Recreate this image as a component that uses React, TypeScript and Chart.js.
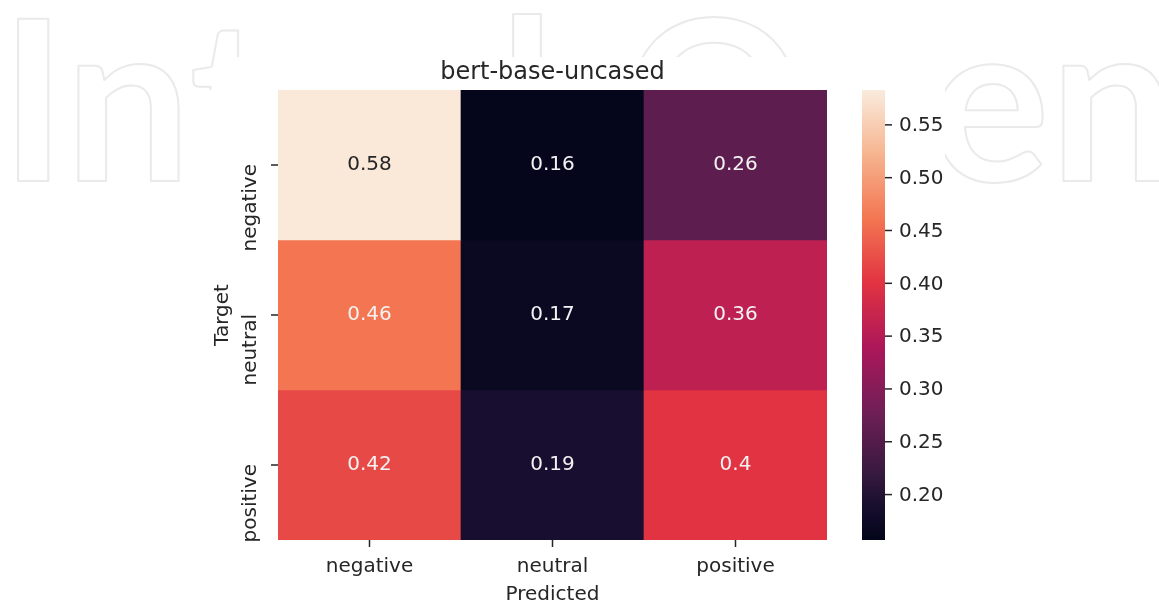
import { useEffect, useRef } from "react";
import { Chart, registerables } from "chart.js";

Chart.register(...registerables);

// Axis categories
const predictedLabels = ["negative", "neutral", "positive"];
const targetLabels = ["negative", "neutral", "positive"];

// Row-normalised confusion matrix, one array per target class
const rowNegative = [0.58, 0.16, 0.26];
const rowNeutral = [0.46, 0.17, 0.36];
const rowPositive = [0.42, 0.19, 0.4];
const matrixRows = [rowNegative, rowNeutral, rowPositive];

// Colour bar limits and ticks
const colorbarRange = [0.157, 0.583];
const colorbarTicks = [0.2, 0.25, 0.3, 0.35, 0.4, 0.45, 0.5, 0.55];

const titleText = "bert-base-uncased";
const xTitle = "Predicted";
const yTitle = "Target";
const watermarkText = "IntechOpen";

// "rocket" colormap stops
const rocketStops: [number, string][] = [
  [0.0, "#03051a"],
  [0.075, "#170e2e"],
  [0.143, "#35193e"],
  [0.286, "#701f57"],
  [0.429, "#ad1759"],
  [0.571, "#e13342"],
  [0.714, "#f37651"],
  [0.857, "#f6b48f"],
  [1.0, "#faebdd"],
];

const W = 1159;
const H = 601;
const FONT = "'DejaVu Sans', sans-serif";
const TEXT = "#262626";

function hexToRgb(h: string): number[] {
  return [1, 3, 5].map((i) => parseInt(h.slice(i, i + 2), 16));
}

function rocket(t: number): number[] {
  const x = Math.max(0, Math.min(1, t));
  for (let i = 1; i < rocketStops.length; i++) {
    const [t1, c1] = rocketStops[i];
    const [t0, c0] = rocketStops[i - 1];
    if (x <= t1) {
      const f = (x - t0) / (t1 - t0);
      const a = hexToRgb(c0);
      const b = hexToRgb(c1);
      return a.map((v, k) => Math.round(v + (b[k] - v) * f));
    }
  }
  return hexToRgb(rocketStops[rocketStops.length - 1][1]);
}

function norm(v: number) {
  return (v - colorbarRange[0]) / (colorbarRange[1] - colorbarRange[0]);
}

function rgbStr(c: number[]) {
  return `rgb(${c[0]},${c[1]},${c[2]})`;
}

function luminance(c: number[]) {
  const lin = c.map((v) => {
    const s = v / 255;
    return s <= 0.03928 ? s / 12.92 : Math.pow((s + 0.055) / 1.055, 2.4);
  });
  return 0.2126 * lin[0] + 0.7152 * lin[1] + 0.0722 * lin[2];
}

const heatmapDecor = {
  id: "heatmapDecor",
  beforeDraw(chart: any) {
    const ctx: CanvasRenderingContext2D = chart.ctx;
    ctx.save();
    ctx.fillStyle = "#ffffff";
    ctx.fillRect(0, 0, W, H);
    // faint outlined lettering behind the figure
    ctx.font = `bold 224px Lato, sans-serif`;
    ctx.strokeStyle = "#eaeaea";
    ctx.lineWidth = 2;
    ctx.lineJoin = "round";
    ctx.textAlign = "left";
    ctx.textBaseline = "alphabetic";
    ctx.strokeText(watermarkText, 0, 181);
    // figure background
    ctx.fillStyle = "#ffffff";
    ctx.fillRect(226, 57, 945 - 226, H - 57);
    ctx.fillRect(205, 90, 945 - 205, H - 90);
    ctx.restore();
  },
  afterDraw(chart: any) {
    const ctx: CanvasRenderingContext2D = chart.ctx;
    const area = chart.chartArea;
    const xs = chart.scales.x;
    const ys = chart.scales.y;
    ctx.save();
    ctx.beginPath();
    ctx.rect(0, 0, 944, H);
    ctx.clip();

    // cell annotations
    ctx.font = `20px ${FONT}`;
    ctx.textAlign = "center";
    ctx.textBaseline = "middle";
    matrixRows.forEach((vals, r) => {
      const meta = chart.getDatasetMeta(r);
      vals.forEach((v, j) => {
        const el: any = meta.data[j];
        const cy = (el.y + el.base) / 2;
        const col = rocket(norm(v));
        ctx.fillStyle = luminance(col) < 0.408 ? "#f2f2f2" : TEXT;
        ctx.fillText(String(v), el.x, cy);
      });
    });

    ctx.strokeStyle = TEXT;
    ctx.fillStyle = TEXT;
    ctx.lineWidth = 1.5;

    // x ticks and labels
    predictedLabels.forEach((lab, j) => {
      const x = xs.getPixelForValue(j);
      ctx.beginPath();
      ctx.moveTo(x, area.bottom);
      ctx.lineTo(x, area.bottom + 7);
      ctx.stroke();
      ctx.textAlign = "center";
      ctx.textBaseline = "alphabetic";
      ctx.font = `20px ${FONT}`;
      ctx.fillText(lab, x, 572);
    });
    ctx.font = `20px ${FONT}`;
    ctx.textAlign = "center";
    ctx.textBaseline = "alphabetic";
    ctx.fillText(xTitle, (area.left + area.right) / 2, 600);

    // y ticks and rotated labels
    targetLabels.forEach((lab, r) => {
      const y = ys.getPixelForValue(r + 0.5);
      ctx.beginPath();
      ctx.moveTo(area.left - 7, y);
      ctx.lineTo(area.left, y);
      ctx.stroke();
      ctx.save();
      ctx.translate(256, y - 1);
      ctx.rotate(-Math.PI / 2);
      ctx.textAlign = "right";
      ctx.textBaseline = "alphabetic";
      ctx.font = `20px ${FONT}`;
      ctx.fillText(lab, 0, 0);
      ctx.restore();
    });
    ctx.save();
    ctx.translate(228, (area.top + area.bottom) / 2);
    ctx.rotate(-Math.PI / 2);
    ctx.textAlign = "center";
    ctx.textBaseline = "alphabetic";
    ctx.font = `20px ${FONT}`;
    ctx.fillText(yTitle, 0, 0);
    ctx.restore();

    // title
    ctx.font = `24px ${FONT}`;
    ctx.textAlign = "center";
    ctx.textBaseline = "alphabetic";
    ctx.fillText(titleText, (area.left + area.right) / 2, 79);

    // colour bar
    const cbLeft = 862;
    const cbRight = 885;
    const top = area.top;
    const bottom = area.bottom;
    const grad = ctx.createLinearGradient(0, bottom, 0, top);
    rocketStops.forEach(([t, c]) => grad.addColorStop(t, c));
    ctx.fillStyle = grad;
    ctx.fillRect(cbLeft, top, cbRight - cbLeft, bottom - top);

    ctx.fillStyle = TEXT;
    ctx.font = `20px ${FONT}`;
    ctx.textAlign = "left";
    ctx.textBaseline = "middle";
    colorbarTicks.forEach((v) => {
      const y = bottom - norm(v) * (bottom - top);
      ctx.beginPath();
      ctx.moveTo(cbRight, y);
      ctx.lineTo(cbRight + 7, y);
      ctx.stroke();
      ctx.fillText(v.toFixed(2), cbRight + 14, y + 1);
    });
    ctx.restore();
  },
};

export default function App() {
  const canvasRef = useRef<HTMLCanvasElement | null>(null);

  useEffect(() => {
    if (!canvasRef.current) return;
    const chart = new Chart(canvasRef.current, {
      type: "bar",
      data: {
        labels: predictedLabels,
        datasets: matrixRows.map((vals, r) => ({
          label: targetLabels[r],
          data: vals.map(() => [r, r + 1]) as any,
          backgroundColor: vals.map((v) => rgbStr(rocket(norm(v)))),
          borderWidth: 0,
          grouped: false,
          barPercentage: 1,
          categoryPercentage: 1,
        })),
      },
      options: {
        responsive: false,
        animation: false,
        layout: { padding: { left: 278, right: W - 827, top: 90, bottom: H - 540 } },
        scales: {
          x: { type: "category", display: false, offset: true },
          y: { type: "linear", display: false, min: 0, max: 3, reverse: true },
        },
        plugins: {
          legend: { display: false },
          tooltip: { enabled: false },
          title: { display: false },
        },
      },
      plugins: [heatmapDecor],
    });
    return () => chart.destroy();
  }, []);

  return (
    <div style={{ position: "fixed", left: 0, top: 0, width: W, height: H, overflow: "hidden" }}>
      <canvas ref={canvasRef} width={W} height={H} style={{ display: "block" }} />
    </div>
  );
}
